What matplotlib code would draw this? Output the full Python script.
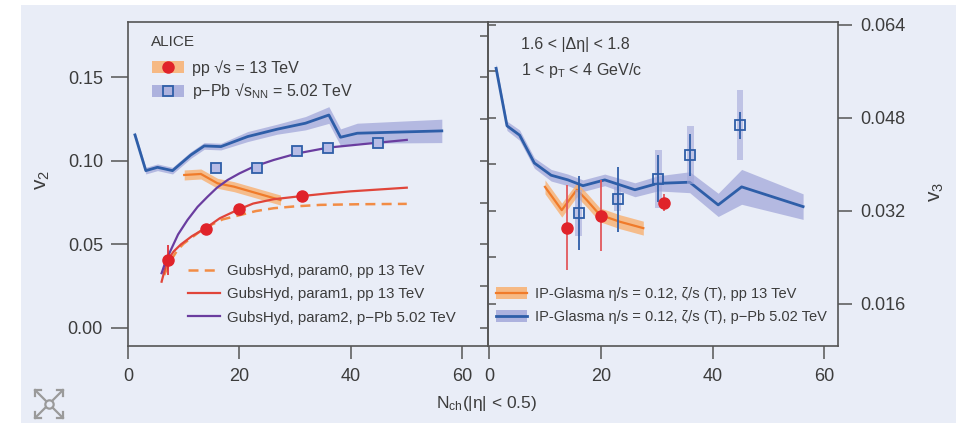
import numpy as np
import matplotlib.pyplot as plt
from matplotlib.patches import Patch, Rectangle
from matplotlib.lines import Line2D

plt.rcParams['font.family'] = ['Liberation Sans', 'DejaVu Sans']
plt.rcParams['mathtext.fontset'] = 'custom'
plt.rcParams['mathtext.rm'] = 'Liberation Sans'
plt.rcParams['mathtext.it'] = 'Liberation Sans:italic'
plt.rcParams['mathtext.bf'] = 'Liberation Sans:bold'

# ---- left panel: v2 ----
pp_v2_x = [7.1, 14.1, 20.0, 31.3]
pp_v2_y = [0.0407, 0.0593, 0.0711, 0.0790]
pp_v2_err = [0.009, 0.002, 0.002, 0.002]

ppb_v2_x = [15.9, 23.1, 30.4, 36.0, 44.9]
ppb_v2_y = [0.096, 0.096, 0.106, 0.108, 0.1106]
ppb_v2_err = [0.003, 0.003, 0.002, 0.002, 0.002]

ipg_ppb_v2_x = [1.25, 3.2, 5.3, 8.0, 11.3, 13.7, 16.7, 21.5, 26.8, 31.9, 36.1, 38.2, 41.2, 56.4]
ipg_ppb_v2_y = [0.1156, 0.0942, 0.0962, 0.0942, 0.1036, 0.109, 0.1086, 0.1146, 0.119, 0.1226, 0.1275, 0.1142, 0.1166, 0.118]
ipg_ppb_v2_w = [0.002, 0.002, 0.002, 0.002, 0.002, 0.002, 0.002, 0.003, 0.003, 0.004, 0.005, 0.005, 0.006, 0.007]

ipg_pp_v2_x = [10.1, 13.1, 16.1, 19.05, 27.4]
ipg_pp_v2_y = [0.0916, 0.0922, 0.0866, 0.0846, 0.0766]
ipg_pp_v2_w = [0.003, 0.003, 0.003, 0.003, 0.003]

gubs0_x = [6.5, 7.6, 8.9, 10.0, 11.3, 12.8, 14.3, 17.0, 20.25, 23.0, 26.2, 30.0, 34.6, 42.0, 50.1]
gubs0_y = [0.0317, 0.0400, 0.0467, 0.0505, 0.0537, 0.0575, 0.0607, 0.065, 0.0677, 0.0700, 0.0717, 0.0728, 0.0737, 0.0741, 0.0743]

gubs1_x = [6.04, 6.6, 7.11, 8.2, 9.5, 11.5, 13.98, 16.5, 19.95, 22.5, 26.2, 31.3, 36.0, 40.0, 50.1]
gubs1_y = [0.0277, 0.0348, 0.0407, 0.0458, 0.0500, 0.0550, 0.0598, 0.0657, 0.0711, 0.0745, 0.0771, 0.0790, 0.0806, 0.0818, 0.0840]

gubs2_x = [6.04, 6.8, 7.7, 9.0, 10.7, 12.5, 14.3, 16.0, 17.9, 20.0, 22.6, 26.2, 30.4, 36.0, 42.0, 50.1]
gubs2_y = [0.0328, 0.0402, 0.0467, 0.0560, 0.0647, 0.0725, 0.0786, 0.0840, 0.0886, 0.0925, 0.0966, 0.1006, 0.1045, 0.108, 0.110, 0.1126]

# ---- right panel: v3 ----
pp_v3_x = [14.0, 20.0, 31.3]
pp_v3_y = [0.0291, 0.0311, 0.0334]
pp_v3_err = [0.0073, 0.0061, 0.0015]

ppb_v3_x = [16.0, 23.0, 30.3, 36.0, 44.9]
ppb_v3_y = [0.0316, 0.0340, 0.0375, 0.0416, 0.0467]
ppb_v3_err = [0.0063, 0.0056, 0.0040, 0.0036, 0.0023]
ppb_v3_sys = [0.004, 0.002, 0.005, 0.005, 0.006]

ipg_ppb_v3_x = [1.25, 3.2, 5.45, 8.1, 11.1, 14.1, 16.8, 20.7, 26.1, 30.2, 35.9, 41.0, 45.2, 56.2]
ipg_ppb_v3_y = [0.0565, 0.0466, 0.0450, 0.0402, 0.0381, 0.0373, 0.0363, 0.0373, 0.0356, 0.0367, 0.0369, 0.0330, 0.0361, 0.0327]
ipg_ppb_v3_w = [0.0008, 0.0008, 0.0009, 0.0009, 0.001, 0.001, 0.001, 0.001, 0.0012, 0.0013, 0.0018, 0.002, 0.003, 0.0022]

ipg_pp_v3_x = [10.0, 13.0, 15.7, 17.5, 19.8, 23.4, 27.6]
ipg_pp_v3_y = [0.0361, 0.0321, 0.0356, 0.0338, 0.0313, 0.0301, 0.0290]
ipg_pp_v3_w = [0.0012] * 7

v2_ticks = [0.00, 0.05, 0.10, 0.15]
v3_ticks = [0.016, 0.032, 0.048, 0.064]
nch_ticks = [0, 20, 40, 60]

BG = '#e9edf7'
TXT = '#3c3c3c'
BLUE = '#2e5ea8'
BAND_B = '#a3a8da'
ORANGE = '#f07b2a'
BAND_O = '#f9b070'
RED = '#e0232a'
PURPLE = '#6a3d9f'
RED_C = '#e0453a'
DASH = '#f28c45'

W, H = 966, 423
fig = plt.figure(figsize=(W / 100, H / 100), dpi=100)
fig.patch.set_facecolor('white')
fig.add_artist(Rectangle((21 / W, 0), 935 / W, 418 / H, transform=fig.transFigure,
                         facecolor=BG, edgecolor='none', zorder=-10))


def px_box(x0, y0, x1, y1):
    return [x0 / W, 1 - y1 / H, (x1 - x0) / W, (y1 - y0) / H]


def fxy(x, y):
    return (x / W, 1 - y / H)


ax1 = fig.add_axes(px_box(128, 22.5, 488, 346))
ax2 = fig.add_axes(px_box(488, 22.5, 838.3, 346))
for ax in (ax1, ax2):
    ax.set_facecolor('none')
    for s in ax.spines.values():
        s.set_color('#555555')
        s.set_linewidth(1.2)
    ax.set_xticks(nch_ticks)
    ax.tick_params(axis='x', direction='out', length=9, width=1.1, pad=7,
                   labelsize=13, colors='#555555', labelcolor=TXT)

# ---- left panel ----
ax1.set_xlim(0, 64.7)
ax1.set_ylim(-0.0108, 0.1829)
ax1.set_yticks(v2_ticks)
ax1.set_yticklabels([f'{t:.2f}' for t in v2_ticks])
ax1.tick_params(axis='y', direction='out', length=12, width=1.1, pad=6,
                labelsize=13, colors='#555555', labelcolor=TXT)
sec1 = ax1.secondary_yaxis('right')
sec1.set_yticks(np.arange(0, 0.18, 0.025))
sec1.tick_params(direction='in', length=6, width=1.1, labelright=False, colors='#555555')
sec1.spines['right'].set_visible(False)

lo = np.array(ipg_ppb_v2_y) - np.array(ipg_ppb_v2_w)
hi = np.array(ipg_ppb_v2_y) + np.array(ipg_ppb_v2_w)
ax1.fill_between(ipg_ppb_v2_x, lo, hi, color=BAND_B, alpha=0.75, lw=0)
ax1.plot(ipg_ppb_v2_x, ipg_ppb_v2_y, color=BLUE, lw=2)

lo = np.array(ipg_pp_v2_y) - np.array(ipg_pp_v2_w)
hi = np.array(ipg_pp_v2_y) + np.array(ipg_pp_v2_w)
ax1.fill_between(ipg_pp_v2_x, lo, hi, color=BAND_O, alpha=0.8, lw=0)
ax1.plot(ipg_pp_v2_x, ipg_pp_v2_y, color=ORANGE, lw=1.6)

l0, = ax1.plot(gubs0_x, gubs0_y, color=DASH, lw=1.8, ls=(0, (4, 2.5)))
l1, = ax1.plot(gubs1_x, gubs1_y, color=RED_C, lw=1.6)
l2, = ax1.plot(gubs2_x, gubs2_y, color=PURPLE, lw=1.6)

ax1.errorbar(ppb_v2_x, ppb_v2_y, yerr=ppb_v2_err, fmt='s', ms=7, mfc='#b7bce6',
             mec=BLUE, mew=1.3, ecolor=BLUE, elinewidth=1.2, capsize=0, zorder=5)
ax1.errorbar(pp_v2_x, pp_v2_y, yerr=pp_v2_err, fmt='o', ms=8, color=RED,
             ecolor=RED, elinewidth=1.2, capsize=0, zorder=6)

fig.text(*fxy(151, 42), 'ALICE', fontsize=11, color=TXT, va='center', ha='left')
h_pp = (Patch(facecolor=BAND_O, edgecolor='none', alpha=0.85),
        Line2D([], [], marker='o', color=RED, ls='none', ms=8))
h_ppb = (Patch(facecolor=BAND_B, edgecolor='none', alpha=0.85),
         Line2D([], [], marker='s', mfc='none', mec=BLUE, mew=1.3, ls='none', ms=7))
leg1 = ax1.legend([h_pp, h_ppb],
                  ['pp √s = 13 TeV', 'p−Pb √s$_{\\mathrm{NN}}$ = 5.02 TeV'],
                  loc='upper left', bbox_to_anchor=fxy(152, 60), bbox_transform=fig.transFigure,
                  frameon=False, fontsize=11.5, handlelength=2.0, handleheight=0.75,
                  handletextpad=0.5, labelspacing=0.35, borderpad=0, borderaxespad=0,
                  labelcolor=TXT)
ax1.add_artist(leg1)
ax1.legend([l0, l1, l2],
           ['GubsHyd, param0, pp 13 TeV', 'GubsHyd, param1, pp 13 TeV',
            'GubsHyd, param2, p−Pb 5.02 TeV'],
           loc='upper left', bbox_to_anchor=fxy(188, 264), bbox_transform=fig.transFigure,
           frameon=False, fontsize=10.8, handlelength=2.1, handletextpad=0.5,
           labelspacing=0.62, borderpad=0, borderaxespad=0, labelcolor=TXT)

# ---- right panel ----
ax2.set_xlim(-0.2, 62.5)
ax2.set_ylim(0.00872, 0.06438)
ax2.yaxis.tick_right()
ax2.set_yticks(v3_ticks)
ax2.set_yticklabels([f'{t:.3f}' for t in v3_ticks])
ax2.tick_params(axis='y', direction='out', length=10, width=1.1, pad=6,
                labelsize=13, colors='#555555', labelcolor=TXT)
sec2 = ax2.secondary_yaxis('left')
sec2.set_yticks(np.arange(0.016, 0.065, 0.008))
sec2.tick_params(direction='in', length=6, width=1.1, labelleft=False, colors='#555555')
sec2.spines['left'].set_visible(False)

lo = np.array(ipg_ppb_v3_y) - np.array(ipg_ppb_v3_w)
hi = np.array(ipg_ppb_v3_y) + np.array(ipg_ppb_v3_w)
ax2.fill_between(ipg_ppb_v3_x, lo, hi, color=BAND_B, alpha=0.75, lw=0)
ax2.plot(ipg_ppb_v3_x, ipg_ppb_v3_y, color=BLUE, lw=2)

lo = np.array(ipg_pp_v3_y) - np.array(ipg_pp_v3_w)
hi = np.array(ipg_pp_v3_y) + np.array(ipg_pp_v3_w)
ax2.fill_between(ipg_pp_v3_x, lo, hi, color=BAND_O, alpha=0.8, lw=0)
ax2.plot(ipg_pp_v3_x, ipg_pp_v3_y, color=ORANGE, lw=1.6)

sys_lo = np.array(ppb_v3_y) - np.array(ppb_v3_sys)
ax2.bar(ppb_v3_x, 2 * np.array(ppb_v3_sys), bottom=sys_lo, width=1.2,
        color=BAND_B, alpha=0.6, lw=0, zorder=3)
ax2.errorbar(ppb_v3_x, ppb_v3_y, yerr=ppb_v3_err, fmt='s', ms=7, mfc='none',
             mec=BLUE, mew=1.3, ecolor=BLUE, elinewidth=1.3, capsize=0, zorder=5)
ax2.errorbar(pp_v3_x, pp_v3_y, yerr=pp_v3_err, fmt='o', ms=8, color=RED,
             ecolor='#e2585c', elinewidth=1.3, capsize=0, zorder=6)

fig.text(*fxy(521, 45), '1.6 < |Δη| < 1.8', fontsize=11.5, color=TXT, va='center')
fig.text(*fxy(521, 70), '1 < p$_{\\mathrm{T}}$ < 4 GeV/c', fontsize=11.5, color=TXT, va='center')

h_ipp = (Patch(facecolor=BAND_O, edgecolor='none', alpha=0.85),
         Line2D([], [], color=ORANGE, lw=1.6))
h_ippb = (Patch(facecolor=BAND_B, edgecolor='none', alpha=0.85),
          Line2D([], [], color=BLUE, lw=2))
ax2.legend([h_ipp, h_ippb],
           ['IP-Glasma η/s = 0.12, ζ/s (T), pp 13 TeV',
            'IP-Glasma η/s = 0.12, ζ/s (T), p−Pb 5.02 TeV'],
           loc='upper left', bbox_to_anchor=fxy(496, 287), bbox_transform=fig.transFigure,
           frameon=False, fontsize=10.5, handlelength=2.1, handleheight=0.8,
           handletextpad=0.6, labelspacing=0.62, borderpad=0, borderaxespad=0,
           labelcolor=TXT)

# axis labels
fig.text(*fxy(43, 180), 'v$_{\\mathrm{2}}$', rotation=90, fontsize=15, color=TXT,
         ha='center', va='center')
fig.text(*fxy(937, 192), 'v$_{\\mathrm{3}}$', rotation=90, fontsize=15, color=TXT,
         ha='center', va='center')
fig.text(*fxy(487, 403), 'N$_{\\mathrm{ch}}$(|η| < 0.5)', fontsize=12.5, color=TXT,
         ha='center', va='center')

# expand icon in the lower left corner
cx, cy, r = 49, 404, 14
ic = '#9a9a9a'
fig.add_artist(Line2D([cx / W], [1 - cy / H], transform=fig.transFigure, marker='o',
                      ms=6, mfc='none', mec=ic, mew=1.6, ls='none'))
for sx in (-1, 1):
    for sy in (-1, 1):
        x0, y0 = cx + sx * 3.5, cy + sy * 3.5
        x1, y1 = cx + sx * r, cy + sy * r
        fig.add_artist(Line2D([x0 / W, x1 / W], [1 - y0 / H, 1 - y1 / H],
                              transform=fig.transFigure, color=ic, lw=1.6))
        fig.add_artist(Line2D([x1 / W, x1 / W, (x1 - sx * 6) / W],
                              [1 - (y1 - sy * 6) / H, 1 - y1 / H, 1 - y1 / H],
                              transform=fig.transFigure, color=ic, lw=1.6))

fig.savefig('out.png', dpi=100)
